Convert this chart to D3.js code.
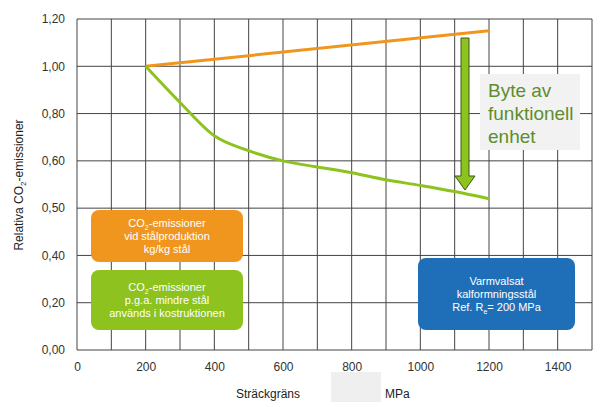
<!DOCTYPE html>
<html><head><meta charset="utf-8">
<script src="https://cdn.jsdelivr.net/npm/d3@7"></script>
<style>body{margin:0;background:#fff;font-family:"Liberation Sans",Arial,sans-serif}</style>
</head><body><svg id="c" width="605" height="407"></svg>
<script>
var xTicks = [0, 200, 400, 600, 800, 1000, 1200, 1400];
var yTicks = [0, 0.2, 0.4, 0.5, 0.6, 0.8, 1.0, 1.2];
var stalX = [200, 1200];
var stalY = [1.0, 1.15];
var kgX = [200, 300, 400, 500, 600, 700, 800, 900, 1000, 1100, 1200];
var kgY = [1.0, 0.847, 0.706, 0.643, 0.60, 0.587, 0.575, 0.56, 0.548, 0.535, 0.52];

var svg = d3.select("#c");
var mLeft = 77, mRight = 592, mTop = 19, mBottom = 350;
var x = d3.scaleLinear().domain([0, 1500]).range([mLeft, mRight]);
var step = (mBottom - mTop) / 7;
var y = d3.scaleLinear().domain(yTicks).range(yTicks.map((d, i) => mBottom - i * step));

// grid
var g = svg.append("g");
d3.range(0, 1501, 100).forEach(v => g.append("line").attr("x1", x(v)).attr("x2", x(v)).attr("y1", mTop).attr("y2", mBottom).attr("stroke", "#444").attr("stroke-width", 1));
yTicks.forEach(v => g.append("line").attr("x1", mLeft).attr("x2", mRight).attr("y1", y(v)).attr("y2", y(v)).attr("stroke", "#444").attr("stroke-width", 1));

svg.append("g").attr("transform", "translate(0," + (mBottom + 2) + ")")
  .call(d3.axisBottom(x).tickValues(xTicks).tickSize(0).tickPadding(10).tickFormat(d3.format("d")))
  .call(a => a.select(".domain").remove())
  .selectAll("text").attr("font-size", 12).attr("fill", "#333").attr("font-family", "Liberation Sans");
svg.append("g").attr("transform", "translate(" + mLeft + ",0)")
  .call(d3.axisLeft(y).tickValues(yTicks).tickSize(0).tickPadding(12).tickFormat(d => d3.format(".2f")(d).replace(".", ",")))
  .call(a => a.select(".domain").remove())
  .selectAll("text").attr("font-size", 12).attr("fill", "#333").attr("font-family", "Liberation Sans");

var line = d3.line().x(d => x(d[0])).y(d => y(d[1]));
svg.append("path").datum(stalX.map((v, i) => [v, stalY[i]])).attr("d", line).attr("fill", "none").attr("stroke", "#f0961e").attr("stroke-width", 3);
svg.append("path").datum(kgX.map((v, i) => [v, kgY[i]])).attr("d", line.curve(d3.curveMonotoneX)).attr("fill", "none").attr("stroke", "#8dc21f").attr("stroke-width", 3);

// arrow
svg.append("path").attr("d", "M461,38 L469,38 L469,176 L475,176 L465,190 L455,176 L461,176 Z")
  .attr("fill", "#8dc21f").attr("stroke", "#3a5a10").attr("stroke-width", 1);

// note box
svg.append("rect").attr("x", 480).attr("y", 74).attr("width", 100).attr("height", 76).attr("fill", "#f2f2f2");
["Byte av", "funktionell", "enhet"].forEach((t, i) => svg.append("text").attr("x", 488).attr("y", 97 + i * 23).attr("font-size", 19).attr("fill", "#5e8d2e").text(t));

function box(x0, y0, w, h, fill, lines) {
  svg.append("rect").attr("x", x0).attr("y", y0).attr("width", w).attr("height", h).attr("rx", 8).attr("fill", fill);
  lines.forEach((t, i) => {
    var tx = svg.append("text").attr("x", x0 + w / 2).attr("y", y0 + (h - lines.length * 13) / 2 + 10 + i * 13)
      .attr("text-anchor", "middle").attr("font-size", 11).attr("fill", "#fff");
    var sub = false;
    t.forEach(p => {
      var dy = p[1] ? 3 : (sub ? -3 : null);
      sub = !!p[1];
      tx.append("tspan").attr("font-size", p[1] ? 7 : 11).attr("dy", dy).text(p[0]);
    });
  });
}
box(91, 210, 152, 52, "#f0961e", [[["CO"], ["2", 1], ["-emissioner"]], [["vid stålproduktion"]], [["kg/kg stål"]]]);
box(91, 270, 152, 60, "#8dc21f", [[["CO"], ["2", 1], ["-emissioner"]], [["p.g.a. mindre stål"]], [["används i kostruktionen"]]]);
box(418, 258, 157, 72, "#1f6fb8", [[["Varmvalsat"]], [["kalformningsstål"]], [["Ref. R"], ["e", 1], ["= 200 MPa"]]]);

var yt = svg.append("text").attr("transform", "translate(23,185) rotate(-90)").attr("text-anchor", "middle").attr("font-size", 12).attr("fill", "#222");
yt.append("tspan").text("Relativa CO");
yt.append("tspan").attr("font-size", 8).attr("dy", 3).text("2");
yt.append("tspan").attr("dy", -3).text("-emissioner");

svg.append("text").attr("x", 236).attr("y", 398).attr("font-size", 12).attr("fill", "#222").text("Sträckgräns");
svg.append("rect").attr("x", 331).attr("y", 372).attr("width", 50).attr("height", 30).attr("fill", "#efefef");
svg.append("text").attr("x", 385).attr("y", 398).attr("font-size", 12).attr("fill", "#222").text("MPa");
</script></body></html>
